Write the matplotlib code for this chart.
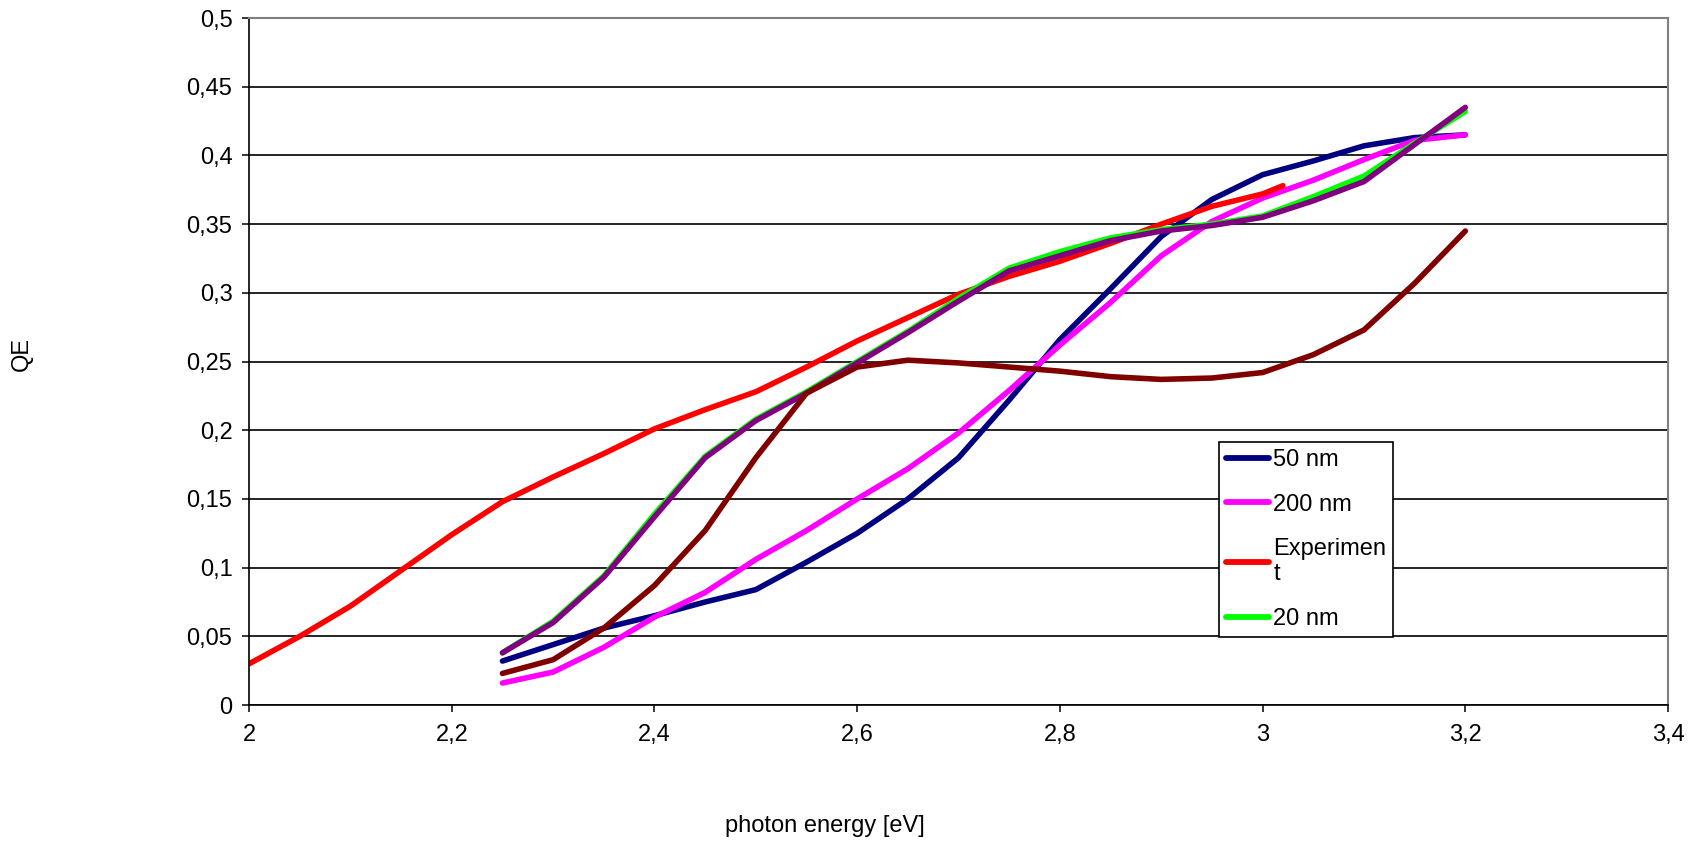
import numpy as np
import matplotlib
matplotlib.use('Agg')
import matplotlib.pyplot as plt
from matplotlib.ticker import FixedLocator, FuncFormatter

plt.rcParams['font.family'] = ['Liberation Sans', 'DejaVu Sans']

# photon energy [eV]
x_model = [2.25, 2.30, 2.35, 2.40, 2.45, 2.50, 2.55, 2.60, 2.65, 2.70,
           2.75, 2.80, 2.85, 2.90, 2.95, 3.00, 3.05, 3.10, 3.15, 3.20]
x_exp = [2.00, 2.05, 2.10, 2.15, 2.20, 2.25, 2.30, 2.35, 2.40, 2.45, 2.50,
         2.55, 2.60, 2.65, 2.70, 2.75, 2.80, 2.85, 2.90, 2.95, 3.00, 3.02]

# QE values
qe_50nm = [0.032, 0.044, 0.056, 0.065, 0.075, 0.084, 0.104, 0.125, 0.150, 0.180,
           0.222, 0.266, 0.303, 0.341, 0.368, 0.386, 0.396, 0.407, 0.413, 0.415]
qe_200nm = [0.016, 0.024, 0.042, 0.064, 0.082, 0.106, 0.127, 0.150, 0.172, 0.198,
            0.229, 0.262, 0.293, 0.327, 0.352, 0.369, 0.382, 0.397, 0.411, 0.415]
qe_exp = [0.030, 0.050, 0.072, 0.098, 0.124, 0.148, 0.166, 0.183, 0.201, 0.215, 0.228,
          0.246, 0.265, 0.282, 0.299, 0.312, 0.323, 0.336, 0.350, 0.363, 0.372, 0.378]
qe_20nm = [0.038, 0.061, 0.094, 0.139, 0.181, 0.208, 0.228, 0.250, 0.272, 0.296,
           0.318, 0.330, 0.340, 0.346, 0.350, 0.356, 0.370, 0.385, 0.409, 0.432]
qe_s5 = [0.038, 0.060, 0.093, 0.137, 0.180, 0.207, 0.227, 0.249, 0.271, 0.294,
         0.316, 0.327, 0.338, 0.345, 0.349, 0.355, 0.367, 0.381, 0.408, 0.435]
qe_s6 = [0.023, 0.033, 0.056, 0.087, 0.127, 0.180, 0.227, 0.246, 0.251, 0.249,
         0.246, 0.243, 0.239, 0.237, 0.238, 0.242, 0.255, 0.273, 0.307, 0.345]

labels = ['50 nm', '200 nm', 'Experimen\nt', '20 nm']

fig = plt.figure(figsize=(17, 8.48), dpi=100)
ax = fig.add_axes([0.1465, 0.1686, 0.8347, 0.8101])

lw = 4.0
style = dict(lw=lw, solid_capstyle='round', solid_joinstyle='round')
l1, = ax.plot(x_model, qe_50nm, color='#000080', **style)
l2, = ax.plot(x_model, qe_200nm, color='#ff00ff', **style)
l3, = ax.plot(x_exp, qe_exp, color='#ff0000', **style)
l4, = ax.plot(x_model, qe_20nm, color='#00ff00', **style)
ax.plot(x_model, qe_s5, color='#800080', **style)
ax.plot(x_model, qe_s6, color='#800000', **style)

ax.set_xlim(2, 3.4)
ax.set_ylim(0, 0.5)
ax.xaxis.set_major_locator(FixedLocator(np.arange(2, 3.41, 0.2)))
ax.yaxis.set_major_locator(FixedLocator(np.arange(0, 0.51, 0.05)))
fmt = FuncFormatter(lambda v, p: ('%g' % round(v, 2)).replace('.', ','))
ax.xaxis.set_major_formatter(fmt)
ax.yaxis.set_major_formatter(fmt)
ax.tick_params(axis='both', direction='out', length=5, width=1.1, color='black',
               labelsize=17)
ax.tick_params(axis='y', pad=7)
ax.tick_params(axis='x', pad=9)

ax.set_axisbelow(True)
ax.yaxis.grid(True, color='black', lw=1.2)
ax.xaxis.grid(False)
for s in ['top', 'right']:
    ax.spines[s].set_color('#808080')
    ax.spines[s].set_linewidth(1.5)
for s in ['left', 'bottom']:
    ax.spines[s].set_color('black')
    ax.spines[s].set_linewidth(1.2)

fig.text(0.013, 0.583, 'QE', rotation=90, ha='center', va='center', fontsize=17)
fig.text(0.485, 0.013, 'photon energy [eV]', ha='center', va='bottom', fontsize=17)

leg = ax.legend([l1, l2, l3, l4], labels, loc='upper left',
                bbox_to_anchor=(0.6836, 0.3828), borderaxespad=0,
                fontsize=17, frameon=True, fancybox=False, framealpha=1,
                edgecolor='black', handlelength=1.8, handletextpad=0.2,
                labelspacing=0.95, borderpad=0.3)
leg.get_frame().set_linewidth(1.2)
for h in leg.legend_handles:
    h.set_linewidth(4.2)

fig.savefig('out.png', dpi=100)
